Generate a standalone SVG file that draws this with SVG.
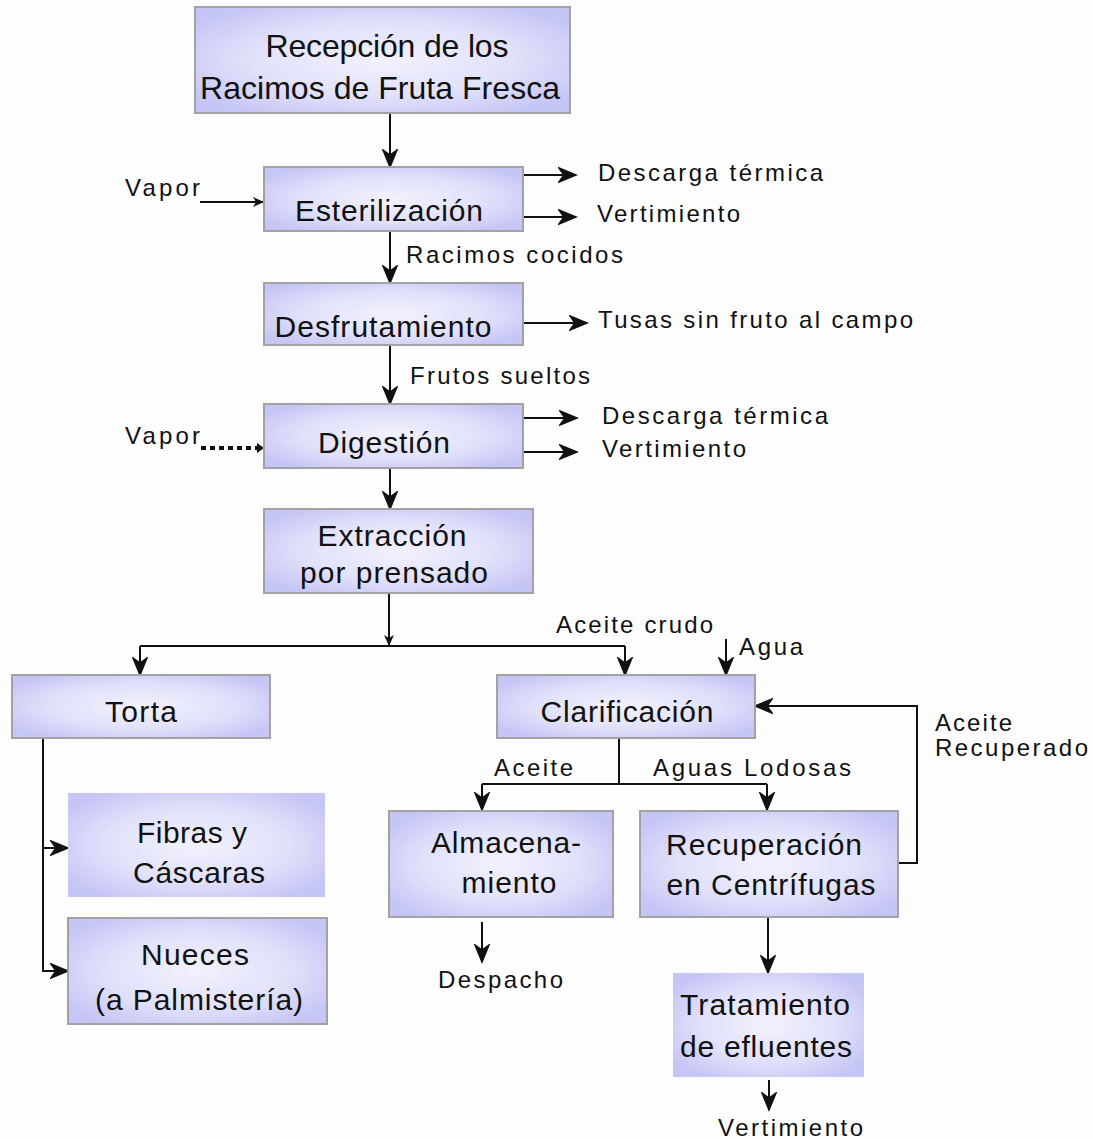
<svg xmlns="http://www.w3.org/2000/svg" width="1093" height="1139" viewBox="0 0 1093 1139">
<defs>
<radialGradient id="g" cx="50%" cy="50%" r="60%">
<stop offset="0" stop-color="#f2f2fd"/>
<stop offset="0.6" stop-color="#e0e0fa"/>
<stop offset="1" stop-color="#c6c6f6"/>
</radialGradient>
<marker id="ah" markerUnits="userSpaceOnUse" markerWidth="20" markerHeight="18" refX="18" refY="9" orient="auto">
<path d="M1,2 L18,9 L1,16 L6,9 z" fill="#111" stroke="#111" stroke-width="1.5" stroke-linejoin="miter"/>
</marker>
<marker id="sm" markerUnits="userSpaceOnUse" markerWidth="12" markerHeight="10" refX="11" refY="5" orient="auto">
<path d="M0,0 L11,5 L0,10 L3,5 z" fill="#111"/>
</marker>
</defs>
<style>
.box{fill:url(#g);stroke:#a2a2a2;stroke-width:2}
.nob{fill:url(#g);stroke:none}
.t{font-family:"Liberation Sans","DejaVu Sans",sans-serif;font-size:30px;fill:#111;text-anchor:middle}
.s{font-family:"Liberation Sans","DejaVu Sans",sans-serif;font-size:24px;fill:#111}
.c{fill:none;stroke:#111;stroke-width:2}
</style>
<rect width="1093" height="1139" fill="#fdfdfd"/>

<g id="connectors">
<path class="c" d="M390,113 V167" marker-end="url(#ah)"/>
<path class="c" d="M200,202 H264" marker-end="url(#sm)"/>
<path class="c" d="M523,175 H576" marker-end="url(#ah)"/>
<path class="c" d="M523,217 H576" marker-end="url(#ah)"/>
<path class="c" d="M390,231 V283" marker-end="url(#ah)"/>
<path class="c" d="M523,323 H587" marker-end="url(#ah)"/>
<path class="c" d="M390,345 V404" marker-end="url(#ah)"/>
<path d="M201,448 H258" fill="none" stroke="#111" stroke-width="4" stroke-dasharray="5,4"/>
<path d="M257,443 L264,448 L257,453 z" fill="#111"/>
<path class="c" d="M523,418 H577" marker-end="url(#ah)"/>
<path class="c" d="M523,452 H577" marker-end="url(#ah)"/>
<path class="c" d="M390,468 V509" marker-end="url(#ah)"/>
<path class="c" d="M389,593 V646" marker-end="url(#sm)"/>
<path class="c" d="M140,646 H625"/>
<path class="c" d="M140,646 V675" marker-end="url(#ah)"/>
<path class="c" d="M625,646 V675" marker-end="url(#ah)"/>
<path class="c" d="M726,639 V675" marker-end="url(#ah)"/>
<path class="c" d="M898,863 H917 V706 H755" marker-end="url(#ah)"/>
<path class="c" d="M619,738 V784"/>
<path class="c" d="M482,784 H767"/>
<path class="c" d="M482,784 V810" marker-end="url(#ah)"/>
<path class="c" d="M767,784 V810" marker-end="url(#ah)"/>
<path class="c" d="M43,738 V971 H68" marker-end="url(#ah)"/>
<path class="c" d="M43,848 H68" marker-end="url(#ah)"/>
<path class="c" d="M482,922 V962" marker-end="url(#ah)"/>
<path class="c" d="M768,917 V973" marker-end="url(#ah)"/>
<path class="c" d="M769,1080 V1110" marker-end="url(#ah)"/>
</g>

<g id="recepcion">
<rect class="box" x="195" y="7" width="375" height="106"/>
<text class="t" x="387" y="57" textLength="243" style="font-size:32px">Recepción de los</text>
<text class="t" x="380" y="99" textLength="360" style="font-size:32px">Racimos de Fruta Fresca</text>
</g>
<g id="esterilizacion">
<rect class="box" x="264" y="167" width="259" height="64"/>
<text class="t" x="389" y="221" textLength="188">Esterilización</text>
</g>
<g id="desfrutamiento">
<rect class="box" x="264" y="283" width="259" height="62"/>
<text class="t" x="383" y="337" textLength="217">Desfrutamiento</text>
</g>
<g id="digestion">
<rect class="box" x="264" y="404" width="259" height="64"/>
<text class="t" x="384" y="453" textLength="132">Digestión</text>
</g>
<g id="extraccion">
<rect class="box" x="264" y="509" width="269" height="84"/>
<text class="t" x="392" y="546" textLength="149">Extracción</text>
<text class="t" x="394" y="583" textLength="188">por prensado</text>
</g>
<g id="torta">
<rect class="box" x="12" y="675" width="258" height="63"/>
<text class="t" x="141" y="722" textLength="72">Torta</text>
</g>
<g id="fibras">
<rect class="nob" x="68" y="793" width="257" height="104"/>
<text class="t" x="192" y="843" textLength="110">Fibras y</text>
<text class="t" x="199" y="883" textLength="132">Cáscaras</text>
</g>
<g id="nueces">
<rect class="box" x="68" y="918" width="259" height="106"/>
<text class="t" x="195" y="965" textLength="108">Nueces</text>
<text class="t" x="199" y="1010" textLength="208">(a Palmistería)</text>
</g>
<g id="clarificacion">
<rect class="box" x="497" y="675" width="258" height="63"/>
<text class="t" x="627" y="722" textLength="173">Clarificación</text>
</g>
<g id="almacenamiento">
<rect class="box" x="389" y="811" width="224" height="106"/>
<text class="t" x="506" y="853" textLength="150">Almacena-</text>
<text class="t" x="509" y="893" textLength="95">miento</text>
</g>
<g id="recuperacion">
<rect class="box" x="640" y="811" width="258" height="106"/>
<text class="t" x="764" y="855" textLength="196">Recuperación</text>
<text class="t" x="771" y="895" textLength="209">en Centrífugas</text>
</g>
<g id="tratamiento">
<rect class="nob" x="673" y="973" width="191" height="104"/>
<text class="t" x="765" y="1015" textLength="170">Tratamiento</text>
<text class="t" x="766" y="1057" textLength="172">de efluentes</text>
</g>

<g id="labels">
<text class="s" x="125" y="196" textLength="75">Vapor</text>
<text class="s" x="598" y="181" textLength="225">Descarga térmica</text>
<text class="s" x="597" y="222" textLength="143">Vertimiento</text>
<text class="s" x="406" y="263" textLength="217">Racimos cocidos</text>
<text class="s" x="598" y="328" textLength="315">Tusas sin fruto al campo</text>
<text class="s" x="410" y="384" textLength="180">Frutos sueltos</text>
<text class="s" x="125" y="444" textLength="75">Vapor</text>
<text class="s" x="602" y="424" textLength="226">Descarga térmica</text>
<text class="s" x="602" y="457" textLength="144">Vertimiento</text>
<text class="s" x="556" y="633" textLength="157">Aceite crudo</text>
<text class="s" x="739" y="655" textLength="64">Agua</text>
<text class="s" x="935" y="731" textLength="77">Aceite</text>
<text class="s" x="935" y="756" textLength="153">Recuperado</text>
<text class="s" x="494" y="776" textLength="79">Aceite</text>
<text class="s" x="653" y="776" textLength="198">Aguas Lodosas</text>
<text class="s" x="438" y="988" textLength="125">Despacho</text>
<text class="s" x="718" y="1136" textLength="145">Vertimiento</text>
</g>
</svg>
